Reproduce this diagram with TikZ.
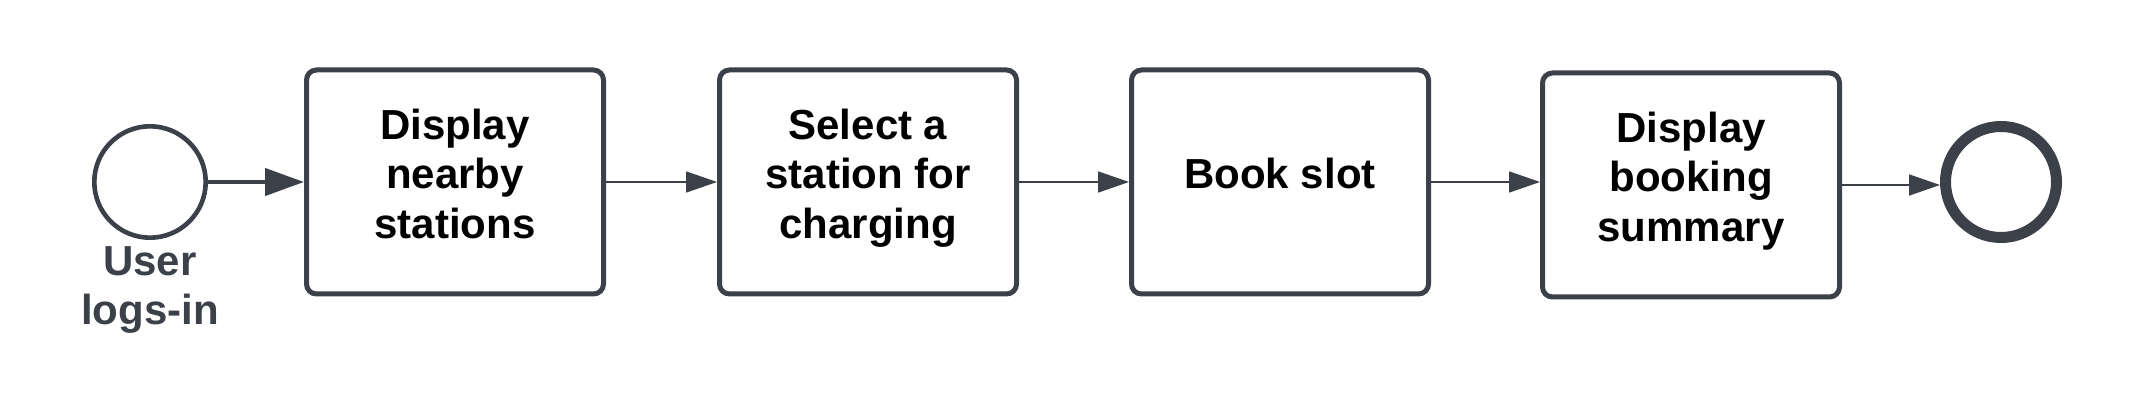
\documentclass[tikz,border=0pt]{standalone}
\usepackage{fontspec}
\setmainfont{Liberation Sans}
\usetikzlibrary{arrows.meta}
\definecolor{strokegray}{RGB}{59,64,73}
\begin{document}
\begin{tikzpicture}[x=0.5pt,y=-0.5pt,
  task/.style={draw=strokegray, line width=2.5pt, rounded corners=5pt,
    minimum width=148.5pt, minimum height=112pt, align=center, text depth=8.5pt,
    font=\bfseries\fontsize{21}{24.7}\selectfont, text=black, inner sep=0pt},
  startev/.style={circle, draw=strokegray, line width=2.3pt, minimum size=55.7pt, inner sep=0pt},
  endev/.style={circle, draw=strokegray, line width=5.5pt, minimum size=55.5pt, inner sep=0pt},
  evlabel/.style={align=center, text=strokegray, font=\bfseries\fontsize{21}{24.7}\selectfont},
  thickflow/.style={draw=strokegray, line width=2.2pt, -{Triangle[length=19.5pt,width=13.5pt]}},
  thinflow/.style={draw=strokegray, line width=0.9pt, -{Triangle[length=15.5pt,width=10.5pt]}}]
\useasboundingbox (0,0) rectangle (2149,405);
\node[startev] (start) at (150,182) {};
\node[evlabel] (lbl) at (150,290) {User\\logs-in};
\node[task] (b1) at (455,182) {Display\\nearby\\stations};
\node[task] (b2) at (868,182) {Select a\\station for\\charging};
\node[task] (b3) at (1280,182) {Book slot};
\node[task] (b4) at (1691,185) {Display\\booking\\summary};
\node[endev] (end) at (2001,182) {};
\draw[thickflow] (start) -- (b1);
\draw[thinflow] (b1) -- (b2);
\draw[thinflow] (b2) -- (b3);
\draw[thinflow] (b3.east) -- (b3.east -| b4.west);
\draw[thinflow] (b4.east) -- (b4.east -| end.west);
\end{tikzpicture}
\end{document}
